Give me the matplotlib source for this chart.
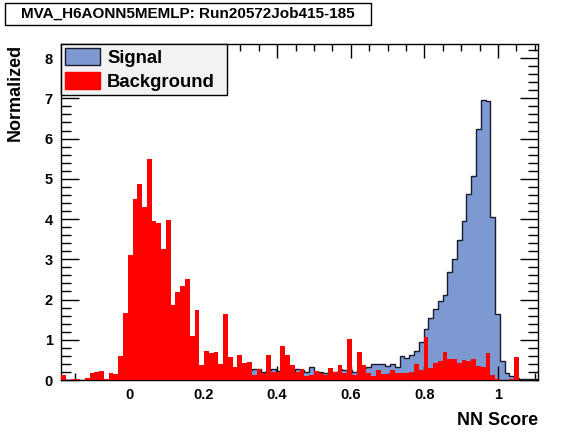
import numpy as np
import matplotlib
matplotlib.use("Agg")
from matplotlib import pyplot as plt
from matplotlib.patches import Patch, Rectangle
from matplotlib.ticker import MultipleLocator

plt.rcParams['font.family'] = ['Liberation Sans', 'DejaVu Sans']

title = "MVA_H6AONN5MEMLP: Run20572Job415-185"
x_lo, x_hi = -0.1875, 1.109
n_bins = 100

# histogram contents, 100 bins
background = [
    0.12, 0.00, 0.03, 0.03, 0.00, 0.06, 0.17, 0.21, 0.22, 0.03,
    0.17, 0.15, 0.60, 1.67, 3.11, 4.51, 4.87, 4.31, 5.49, 3.95,
    3.89, 3.25, 3.98, 1.86, 2.18, 2.34, 2.51, 1.10, 1.74, 0.37,
    0.72, 0.68, 0.70, 0.41, 1.64, 0.57, 0.33, 0.61, 0.42, 0.45,
    0.13, 0.27, 0.17, 0.62, 0.21, 0.21, 0.84, 0.61, 0.37, 0.21,
    0.27, 0.10, 0.12, 0.22, 0.18, 0.12, 0.29, 0.21, 0.37, 0.17,
    1.02, 0.12, 0.70, 0.37, 0.17, 0.11, 0.25, 0.15, 0.15, 0.25,
    0.17, 0.17, 0.18, 0.21, 0.39, 0.25, 1.07, 0.31, 0.43, 0.46,
    0.70, 0.52, 0.52, 0.43, 0.50, 0.48, 0.52, 0.35, 0.33, 0.66,
    0.12, 0.03, 0.00, 0.00, 0.02, 0.58, 0.00, 0.00, 0.00, 0.00,
]
signal = [
    0.00, 0.00, 0.00, 0.00, 0.00, 0.00, 0.00, 0.00, 0.00, 0.00,
    0.00, 0.00, 0.00, 0.00, 0.00, 0.02, 0.02, 0.03, 0.03, 0.04,
    0.04, 0.05, 0.05, 0.06, 0.06, 0.07, 0.08, 0.08, 0.09, 0.10,
    0.11, 0.12, 0.12, 0.14, 0.15, 0.16, 0.18, 0.20, 0.22, 0.24,
    0.28, 0.28, 0.21, 0.25, 0.27, 0.22, 0.24, 0.25, 0.22, 0.27,
    0.26, 0.19, 0.33, 0.20, 0.21, 0.18, 0.21, 0.21, 0.27, 0.25,
    0.24, 0.21, 0.28, 0.30, 0.33, 0.39, 0.39, 0.41, 0.35, 0.41,
    0.33, 0.60, 0.54, 0.62, 0.73, 0.95, 1.26, 1.53, 1.76, 1.97,
    2.11, 2.68, 3.00, 3.48, 3.95, 4.61, 5.08, 6.24, 6.97, 6.94,
    4.06, 1.64, 0.46, 0.17, 0.11, 0.05, 0.03, 0.02, 0.02, 0.02,
]

edges = np.linspace(x_lo, x_hi, n_bins + 1)

W, H = 567, 432
fig = plt.figure(figsize=(W / 100, H / 100), dpi=100)
ax = fig.add_axes([61 / W, 1 - 380 / H, (538 - 61) / W, (380 - 44) / H])

sig_col = '#7d99d1'
ax.stairs(signal, edges, fill=True, color=sig_col, zorder=1)
ax.stairs(signal, edges, color='#1a1a2e', lw=1.0, zorder=2)
ax.stairs(background, edges, fill=True, color='#ff0000', zorder=3)

ax.set_xlim(x_lo, x_hi)
ax.set_ylim(0, 8.35)

ax.xaxis.set_major_locator(MultipleLocator(0.2))
ax.xaxis.set_minor_locator(MultipleLocator(0.05))
ax.yaxis.set_major_locator(MultipleLocator(1))
ax.yaxis.set_minor_locator(MultipleLocator(0.2))
ax.tick_params(which='both', direction='in', top=True, right=True, width=1)
ax.tick_params(axis='x', which='major', length=10, pad=6)
ax.tick_params(axis='x', which='minor', length=5)
ax.tick_params(axis='y', which='major', length=13, pad=6)
ax.tick_params(axis='y', which='minor', length=7)
ax.set_xticks([0, 0.2, 0.4, 0.6, 0.8, 1.0])
ax.set_xticklabels(['0', '0.2', '0.4', '0.6', '0.8', '1'])
for lab in ax.get_xticklabels() + ax.get_yticklabels():
    lab.set_fontweight('bold')
    lab.set_fontsize(10.5)
for sp in ax.spines.values():
    sp.set_linewidth(1)

ax.set_xlabel('NN Score', loc='right', fontsize=13, fontweight='bold', labelpad=7)
ax.set_ylabel('Normalized', loc='top', fontsize=13, fontweight='bold', labelpad=15)

handles = [Patch(facecolor=sig_col, edgecolor='#1a1a2e', lw=1, label='Signal'),
           Patch(facecolor='#ff0000', edgecolor='#ff0000', label='Background')]
leg = fig.legend(handles=handles, loc='upper left',
                 bbox_to_anchor=(61 / W, 1 - 96 / H, (227 - 61) / W, (96 - 44) / H),
                 mode='expand', borderaxespad=0, fancybox=False,
                 edgecolor='black', facecolor='#f2f2f2', framealpha=1,
                 prop={'weight': 'bold', 'size': 13.3},
                 handlelength=1.9, handleheight=1.05, handletextpad=0.4,
                 labelspacing=0.3, borderpad=0.2)
leg.get_frame().set_linewidth(1)

fig.patches.append(Rectangle((5 / W, 1 - 25 / H), (371 - 5) / W, (25 - 3) / H,
                             transform=fig.transFigure, facecolor='white',
                             edgecolor='black', lw=1))
fig.text(188 / W, 1 - 14 / H, title, ha='center', va='center',
         fontsize=11, fontweight='bold')

fig.savefig('out.png', dpi=100)
